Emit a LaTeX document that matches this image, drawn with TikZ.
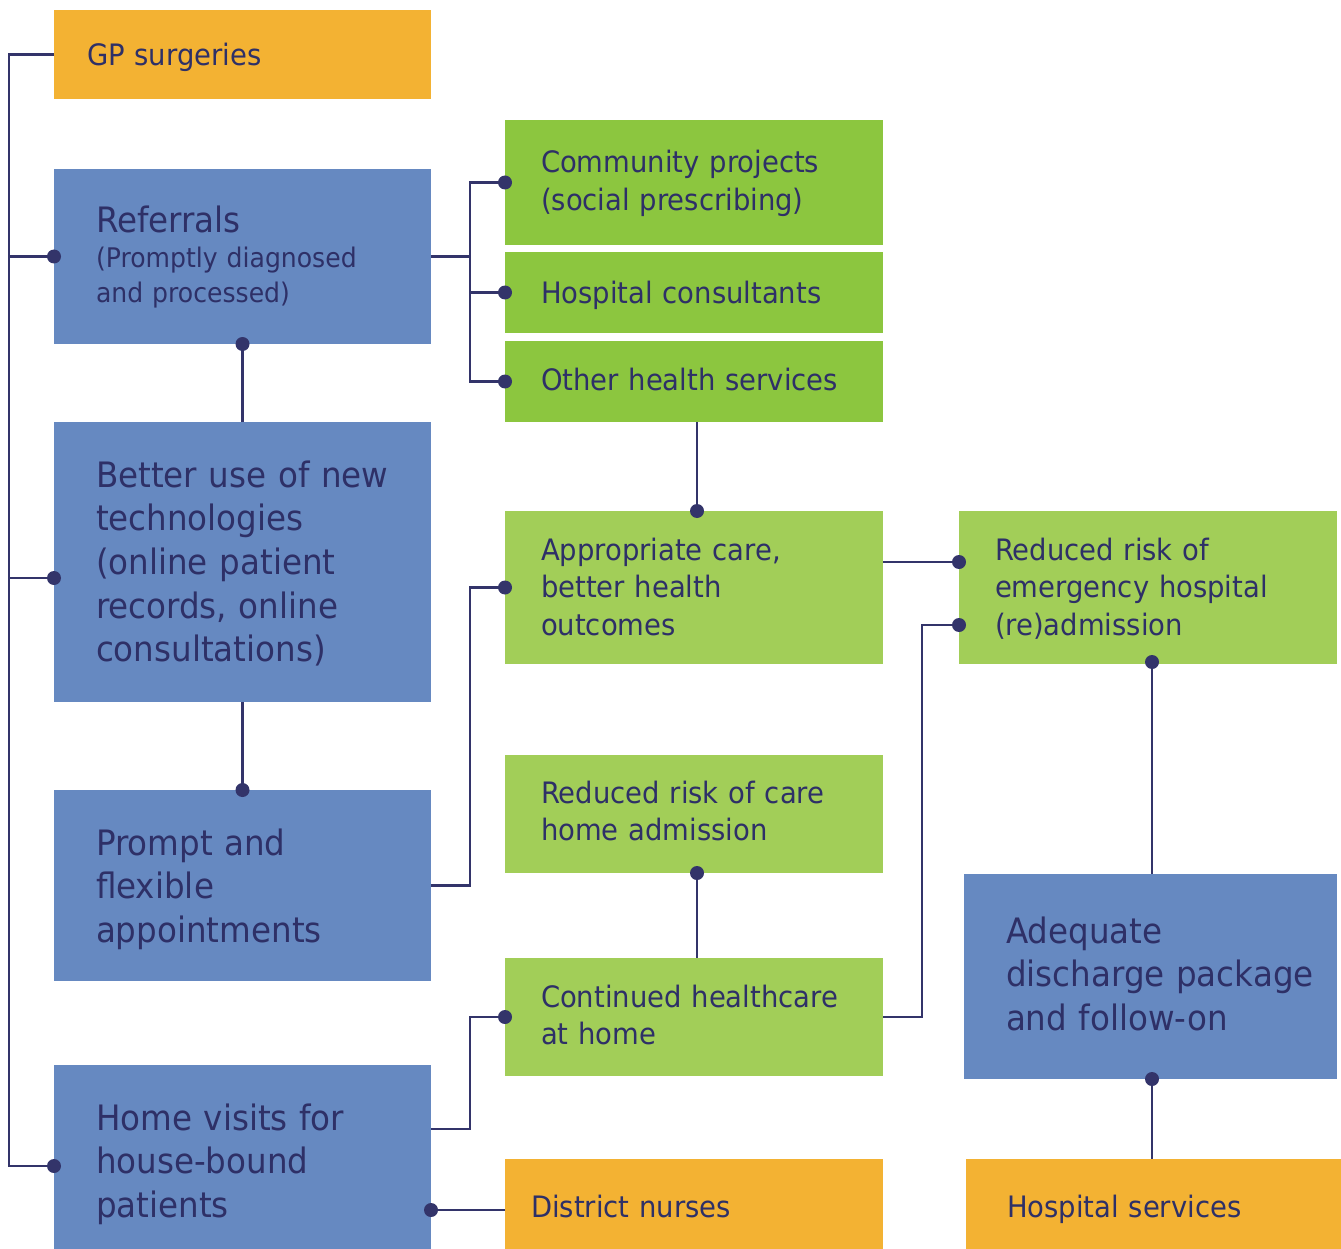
\documentclass[tikz,border=0pt]{standalone}
\usepackage{fontspec}
\setmainfont[FakeStretch=0.93]{DejaVu Sans}
\usetikzlibrary{calc}
\definecolor{cOrange}{HTML}{F3B233}
\definecolor{cBlue}{HTML}{6689C1}
\definecolor{cGreenA}{HTML}{8CC63F}
\definecolor{cGreenB}{HTML}{A2CE58}
\definecolor{cText}{HTML}{2E3067}
\definecolor{cLine}{HTML}{33346A}
\newcommand\fsmall{\fontsize{29.5}{37.5}\selectfont}
\newcommand\flarge{\fontsize{35}{43.7}\selectfont}
\newcommand\fsub{\fontsize{27}{35}\selectfont}
\begin{document}
\begin{tikzpicture}[x=1pt,y=-1pt,
  box/.style={rectangle, inner sep=0pt, outer sep=0pt, anchor=north west, draw=none},
  obox/.style={box, fill=cOrange},
  bbox/.style={box, fill=cBlue},
  gabox/.style={box, fill=cGreenA},
  gbbox/.style={box, fill=cGreenB},
  txt/.style={anchor=base west, inner sep=0pt, outer sep=0pt, text=cText, align=left, text width=330pt},
  conn/.style={draw=cLine, line width=2.7pt},
  dot/.style={fill=cLine}]
\useasboundingbox (0,0) rectangle (1341,1249);
% boxes
\node[obox, minimum width=377pt, minimum height=89pt] (gp) at (54,10) {};
\node[bbox, minimum width=377pt, minimum height=175pt] (ref) at (54,169) {};
\node[bbox, minimum width=377pt, minimum height=280pt] (bu) at (54,422) {};
\node[bbox, minimum width=377pt, minimum height=191pt] (pr) at (54,790) {};
\node[bbox, minimum width=377pt, minimum height=184pt] (hv) at (54,1065) {};
\node[gabox, minimum width=378pt, minimum height=125pt] (cp) at (505,120) {};
\node[gabox, minimum width=378pt, minimum height=81pt] (hc) at (505,252) {};
\node[gabox, minimum width=378pt, minimum height=81pt] (oh) at (505,341) {};
\node[gbbox, minimum width=378pt, minimum height=153pt] (ac) at (505,511) {};
\node[gbbox, minimum width=378pt, minimum height=153pt] (rr) at (959,511) {};
\node[gbbox, minimum width=378pt, minimum height=118pt] (rc) at (505,755) {};
\node[gbbox, minimum width=378pt, minimum height=118pt] (ch) at (505,958) {};
\node[bbox, minimum width=373pt, minimum height=205pt] (ad) at (964,874) {};
\node[obox, minimum width=378pt, minimum height=90pt] (dn) at (505,1159) {};
\node[obox, minimum width=375pt, minimum height=90pt] (hs) at (966,1159) {};
% texts
\node[txt, font=\fsmall] (tgp) at (87,66) {GP surgeries};
\node[txt, font=\flarge] (tref) at (96,233) {Referrals};
\node[txt, font=\fsub] (tref2) at (96,268) {(Promptly diagnosed\\and processed)};
\node[txt, font=\flarge] (tbu) at (96,487) {Better use of new\\technologies\\(online patient\\records, online\\consultations)};
\node[txt, font=\flarge] (tpr) at (96,855) {Prompt and\\flexible\\appointments};
\node[txt, font=\flarge] (thv) at (96,1130) {Home visits for\\house-bound\\patients};
\node[txt, font=\fsmall] (tcp) at (541,173) {Community projects\\(social prescribing)};
\node[txt, font=\fsmall] (thc) at (541,303) {Hospital consultants};
\node[txt, font=\fsmall] (toh) at (541,390) {Other health services};
\node[txt, font=\fsmall] (tac) at (541,560) {Appropriate care,\\better health\\outcomes};
\node[txt, font=\fsmall] (trr) at (995,560) {Reduced risk of\\emergency hospital\\(re)admission};
\node[txt, font=\fsmall] (trc) at (541,803) {Reduced risk of care\\home admission};
\node[txt, font=\fsmall] (tch) at (541,1007) {Continued healthcare\\at home};
\node[txt, font=\flarge] (tad) at (1006,943) {Adequate\\discharge package\\and follow-on};
\node[txt, font=\fsmall] (tdn) at (531,1217) {District nurses};
\node[txt, font=\fsmall] (ths) at (1007,1217) {Hospital services};
% helper coordinates
\coordinate (tk) at (9,0);
\coordinate (jx) at (470,0);
\coordinate (jy) at (922,0);
\coordinate (mx) at (697,0);
\coordinate (buL) at ($(bu.north west)+(0,156)$);
\coordinate (hvL) at ($(hv.north west)+(0,101)$);
\coordinate (hvR) at ($(hv.north east)+(0,64)$);
\coordinate (dnL) at ($(dn.north west)+(0,51)$);
\coordinate (acR) at ($(ac.north east)+(0,51)$);
\coordinate (rrA) at ($(rr.north west)+(0,51)$);
\coordinate (rrB) at ($(rr.north west)+(0,114)$);
\coordinate (rrS) at ($(rr.south west)+(193,-2)$);
% connectors
\draw[conn] (gp.west) -- (tk |- gp.west) -- (tk |- hvL) -- (hvL);
\draw[conn] (tk |- ref.west) -- (ref.west);
\draw[conn] (tk |- buL) -- (buL);
\draw[conn] (ref.east) -- (jx |- ref.east);
\draw[conn] (cp.west) -- (jx |- cp.west) -- (jx |- oh.west) -- (oh.west);
\draw[conn] (jx |- hc.west) -- (hc.west);
\draw[conn] (ref.south) -- (bu.north);
\draw[conn] (bu.south) -- (pr.north);
\draw[conn] (mx |- oh.south) -- (mx |- ac.north);
\draw[conn] (pr.east) -- (jx |- pr.east) -- (jx |- ac.west) -- (ac.west);
\draw[conn] (acR) -- (rrA);
\draw[conn] (ch.east) -- (jy |- ch.east) -- (jy |- rrB) -- (rrB);
\draw[conn] (rrS) -- (rrS |- ad.north);
\draw[conn] (rrS |- ad.south) -- (rrS |- hs.north);
\draw[conn] (mx |- rc.south) -- (mx |- ch.north);
\draw[conn] (hvR) -- (jx |- hvR) -- (jx |- ch.west) -- (ch.west);
\draw[conn] (dnL) -- (hvR |- dnL);
% dots
\foreach \p in {ref.west, buL, hvL, cp.west, hc.west, oh.west, ref.south, pr.north, ac.west, rrA, rrB, rrS, ch.west}
  \fill[dot] (\p) circle (7pt);
\fill[dot] (mx |- ac.north) circle (7pt);
\fill[dot] (mx |- rc.south) circle (7pt);
\fill[dot] (rrS |- ad.south) circle (7pt);
\fill[dot] (hvR |- dnL) circle (7pt);
\end{tikzpicture}
\end{document}
